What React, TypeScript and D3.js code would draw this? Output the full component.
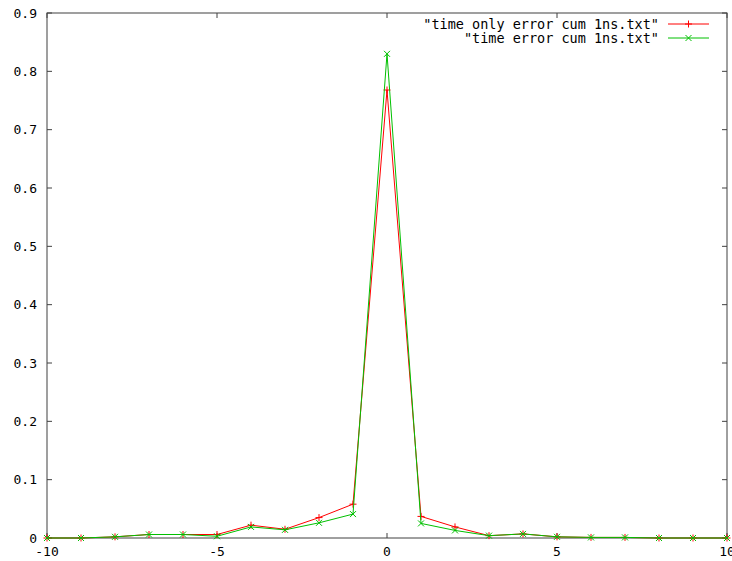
import React from "react";
import * as d3 from "d3";

const xValues = [-10, -9, -8, -7, -6, -5, -4, -3, -2, -1, 0, 1, 2, 3, 4, 5, 6, 7, 8, 9, 10];
const redValues = [0, 0, 0.002, 0.006, 0.006, 0.006, 0.022, 0.015, 0.035, 0.058, 0.768, 0.037, 0.019, 0.004, 0.007, 0.002, 0.001, 0.001, 0, 0, 0];
const greenValues = [0, 0, 0.002, 0.006, 0.006, 0.003, 0.019, 0.014, 0.026, 0.041, 0.83, 0.025, 0.013, 0.004, 0.007, 0.002, 0.001, 0.001, 0, 0, 0];
const xTicks = [-10, -5, 0, 5, 10];
const yTicks = [0, 0.1, 0.2, 0.3, 0.4, 0.5, 0.6, 0.7, 0.8, 0.9];
const seriesNames = ['"time only error cum 1ns.txt"', '"time error cum 1ns.txt"'];

const W = 732, H = 561;
const left = 47, right = 727, top = 13, bottom = 538;
const RED = "#ff0000";
const GREEN = "#00c000";
const AXIS = "#404040";
const FONT = "'DejaVu Sans Mono', monospace";

function Plus({ x, y, c }: { x: number; y: number; c: string }) {
  const s = 3.5;
  return (
    <g stroke={c} strokeWidth={1}>
      <line x1={x - s} x2={x + s} y1={y} y2={y} />
      <line x1={x} x2={x} y1={y - s} y2={y + s} />
    </g>
  );
}
function Cross({ x, y, c }: { x: number; y: number; c: string }) {
  const s = 3;
  return (
    <g stroke={c} strokeWidth={1}>
      <line x1={x - s} x2={x + s} y1={y - s} y2={y + s} />
      <line x1={x - s} x2={x + s} y1={y + s} y2={y - s} />
    </g>
  );
}

export default function App() {
  const x = d3.scaleLinear().domain([-10, 10]).range([left, right]);
  const y = d3.scaleLinear().domain([0, 0.9]).range([bottom, top]);
  const line = d3.line<number>().x((_, i) => x(xValues[i])).y((d) => y(d));
  const fmt = (v: number) => (v === 0 ? "0" : d3.format(".1f")(v));
  const tl = 5;
  return (
    <div style={{ position: "absolute", left: 0, top: 0 }}>
      <svg width={W} height={H} style={{ display: "block", background: "#fff" }}>
        <rect x={left} y={top} width={right - left} height={bottom - top} fill="none" stroke={AXIS} strokeWidth={1} />
        {yTicks.map((t) => (
          <g key={"y" + t}>
            <line x1={left} x2={left + tl} y1={y(t)} y2={y(t)} stroke={AXIS} />
            <line x1={right} x2={right - tl} y1={y(t)} y2={y(t)} stroke={AXIS} />
            <text x={left - 10} y={y(t)} dy="0.35em" textAnchor="end" fontFamily={FONT} fontSize={13} fill="#000">
              {fmt(t)}
            </text>
          </g>
        ))}
        {xTicks.map((t) => (
          <g key={"x" + t}>
            <line x1={x(t)} x2={x(t)} y1={bottom} y2={bottom - tl} stroke={AXIS} />
            <line x1={x(t)} x2={x(t)} y1={top} y2={top + tl} stroke={AXIS} />
            <text x={x(t)} y={bottom + 13} dy="0.35em" textAnchor="middle" fontFamily={FONT} fontSize={13} fill="#000">
              {t}
            </text>
          </g>
        ))}
        <path d={line(redValues) || ""} fill="none" stroke={RED} strokeWidth={1} />
        {redValues.map((v, i) => (
          <Plus key={"r" + i} x={x(xValues[i])} y={y(v)} c={RED} />
        ))}
        <path d={line(greenValues) || ""} fill="none" stroke={GREEN} strokeWidth={1} />
        {greenValues.map((v, i) => (
          <Cross key={"g" + i} x={x(xValues[i])} y={y(v)} c={GREEN} />
        ))}
        {/* legend */}
        <g>
          <text x={659} y={24} dy="0.35em" textAnchor="end" fontFamily={FONT} fontSize={13.5} fill="#000">{seriesNames[0]}</text>
          <line x1={668} x2={709} y1={24} y2={24} stroke={RED} />
          <Plus x={688.5} y={24} c={RED} />
          <text x={659} y={38} dy="0.35em" textAnchor="end" fontFamily={FONT} fontSize={13.5} fill="#000">{seriesNames[1]}</text>
          <line x1={668} x2={709} y1={38} y2={38} stroke={GREEN} />
          <Cross x={688.5} y={38} c={GREEN} />
        </g>
      </svg>
    </div>
  );
}
